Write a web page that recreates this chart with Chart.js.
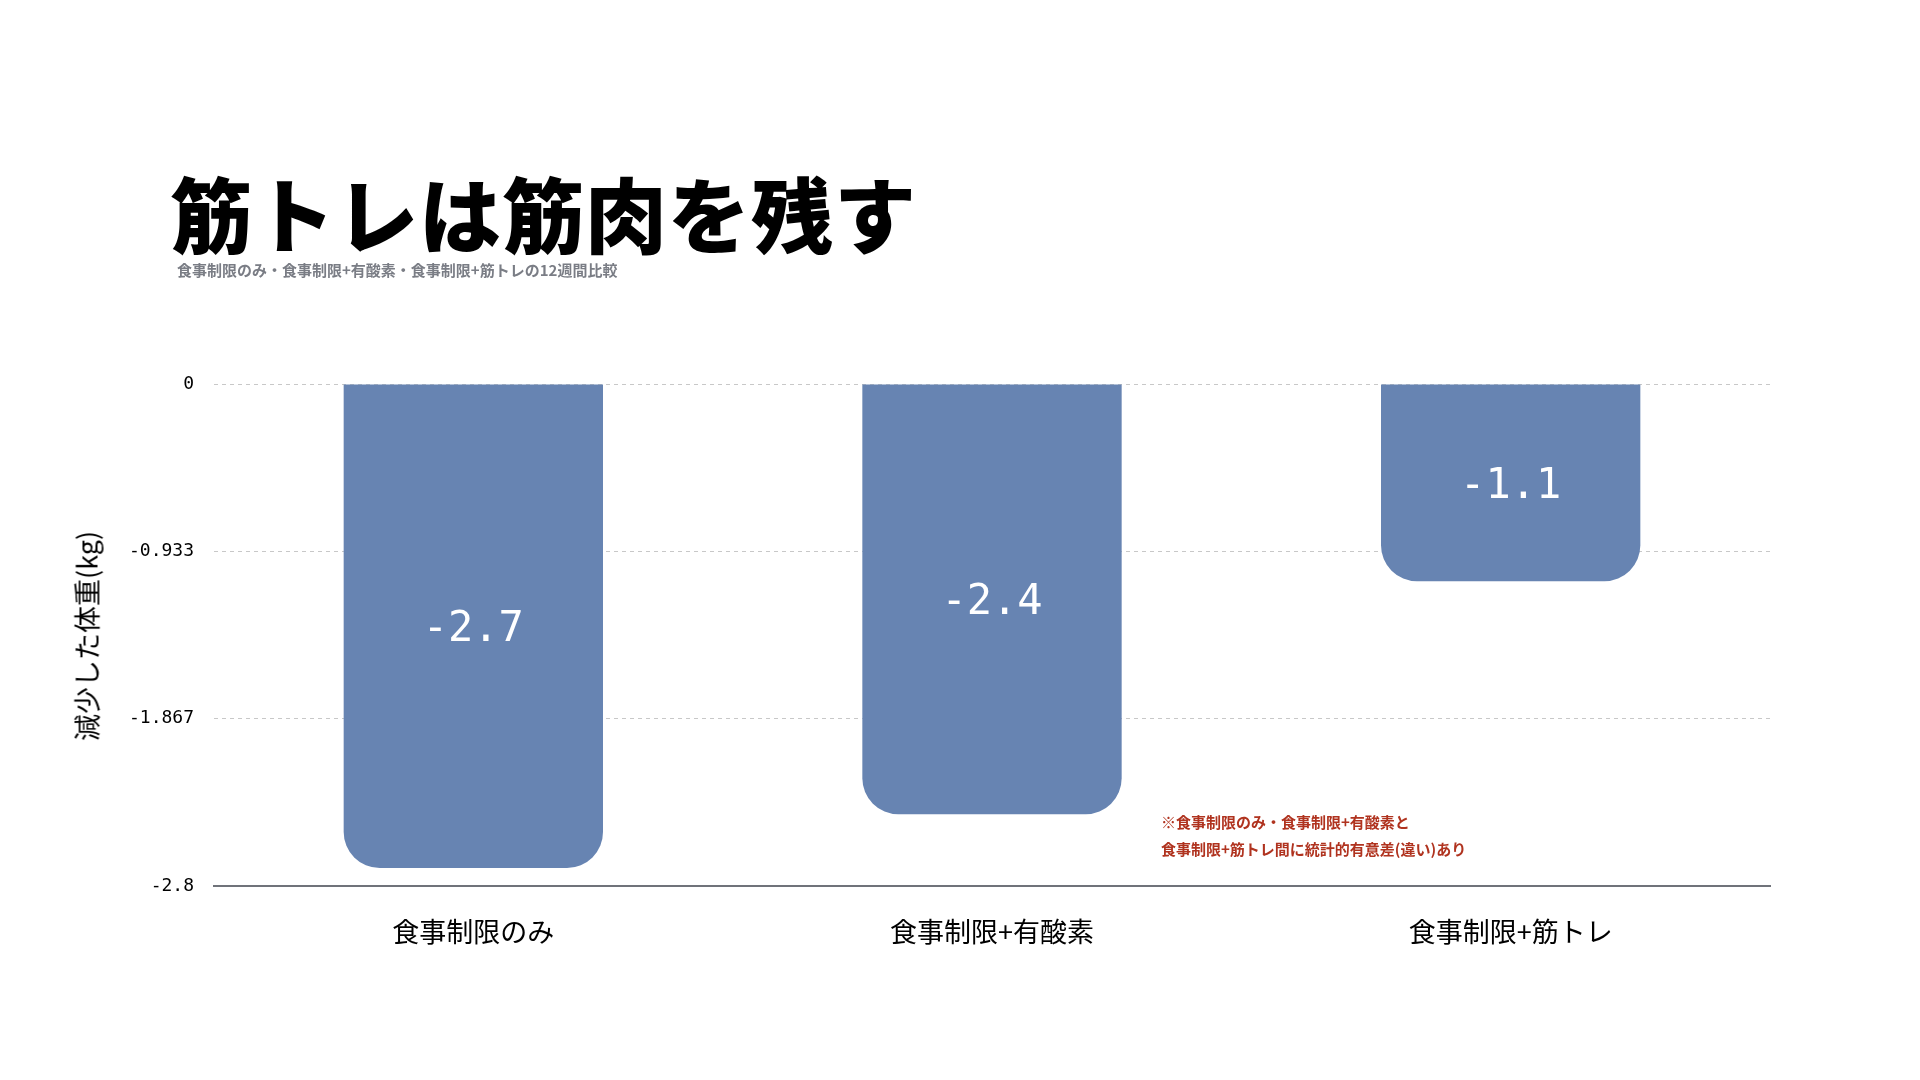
<!DOCTYPE html>
<html><head><meta charset="utf-8">
<script src="https://cdn.jsdelivr.net/npm/chart.js@4/dist/chart.umd.min.js"></script>
<style>
body{margin:0;background:#fff;font-family:"Noto Sans CJK JP",sans-serif;}
#wrap{position:absolute;left:0;top:0;width:1920px;height:1080px;}
.t{position:absolute;white-space:nowrap;}
</style></head><body>
<div id="wrap"><canvas id="c"></canvas></div>
<div class="t" style="left:170px;top:152px;font-size:82px;font-weight:900;color:#000;letter-spacing:1px">筋トレは筋肉を残す</div>
<div class="t" style="left:177px;top:259px;font-size:15px;font-weight:700;color:#7a7d85">食事制限のみ・食事制限+有酸素・食事制限+筋トレの12週間比較</div>
<div class="t" style="left:86px;top:636px;transform:translate(-50%,-50%) rotate(-90deg);font-size:27px;color:#000">減少した体重(kg)</div>
<div class="t" style="left:1161px;top:808px;font-size:15px;font-weight:700;color:#b0331f;line-height:27px">※食事制限のみ・食事制限+有酸素と<br>食事制限+筋トレ間に統計的有意差(違い)あり</div>
<script>
// データ
const categories = ['食事制限のみ', '食事制限+有酸素', '食事制限+筋トレ'];
const weightLoss = [-2.7, -2.4, -1.1];
const yTicks = [0, -0.933, -1.867, -2.8];

// 棒の中に値を描く
const valueLabels = {
    id: 'valueLabels',
    afterDatasetsDraw(chart) {
        const ctx = chart.ctx;
        ctx.save();
        ctx.fillStyle = '#fff';
        ctx.font = '42px "DejaVu Sans Mono"';
        ctx.textAlign = 'center';
        ctx.textBaseline = 'middle';
        chart.getDatasetMeta(0).data.forEach((bar, i) => {
            ctx.fillText(String(weightLoss[i]), bar.x, (bar.y + bar.base) / 2 + 4);
        });
        ctx.restore();
    }
};

new Chart(document.getElementById('c'), {
    type: 'bar',
    data: {
        labels: categories,
        datasets: [{
            data: weightLoss,
            backgroundColor: '#6784b2',
            borderRadius: 36,
            borderSkipped: 'start',
            barPercentage: 1,
            categoryPercentage: 0.5
        }]
    },
    plugins: [valueLabels],
    options: {
        responsive: true,
        maintainAspectRatio: false,
        animation: false,
        layout: { padding: { top: 384, right: 150, left: 0, bottom: 0 } },
        plugins: { legend: { display: false }, tooltip: { enabled: false } },
        scales: {
            x: {
                afterFit: s => { s.height = 194; },
                grid: { display: false, drawTicks: false },
                border: { display: true, color: '#70737a', width: 2 },
                ticks: { color: '#000', padding: 30, font: { size: 27, family: '"Noto Sans CJK JP"' } }
            },
            y: {
                min: -2.8, max: 0,
                afterFit: s => { s.width = 214; },
                afterBuildTicks: s => { s.ticks = yTicks.map(v => ({ value: v })); },
                grid: { color: '#c8c8c8', drawTicks: false, tickBorderDash: [0] },
                border: { display: false, dash: [4, 4] },
                ticks: {
                    color: '#000', padding: 20,
                    font: { size: 18, family: '"DejaVu Sans Mono"' },
                    callback: v => String(v)
                }
            }
        }
    }
});
</script>
</body></html>
